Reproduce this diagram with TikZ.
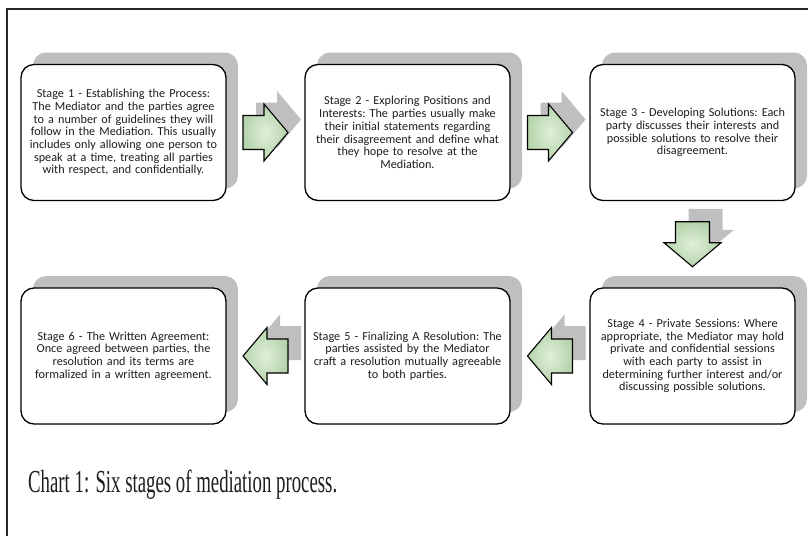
\documentclass[tikz,border=0pt]{standalone}
\usepackage{fontspec}
\setmainfont{Liberation Serif}
\newfontfamily\calib{Carlito}
\usetikzlibrary{calc,shadows}
\definecolor{shadowgray}{RGB}{191,191,191}
\definecolor{arrlight}{RGB}{225,240,219}
\definecolor{arrdark}{RGB}{180,211,170}
\definecolor{txt}{RGB}{30,30,30}
\tikzset{
  stagebox/.style={draw=black, line width=1.3pt, fill=white, rounded corners=13pt,
    minimum width=205pt, minimum height=136pt, inner sep=0pt,
    text width=203pt, align=center, text=txt,
    font=\calib\frenchspacing\fontsize{12.2}{12.7}\selectfont,
    drop shadow={shadow xshift=12pt, shadow yshift=12pt, fill=shadowgray, opacity=1}},
  arrshadow/.style={fill=shadowgray},
  arrbody/.style={draw=black, line width=1.1pt, inner color=arrlight, outer color=arrdark},
  pics/blockarr/.style={code={
    \path[pic actions] (-22.5,-17) -- (-1.5,-17) -- (-1.5,-28.5) -- (22.5,0)
      -- (-1.5,28.5) -- (-1.5,17) -- (-22.5,17) -- cycle;}},
  frameline/.style={draw=black!85, line width=1.4pt}
}
\begin{document}
\begin{tikzpicture}[x=1pt,y=-1pt]
\useasboundingbox (0,0) rectangle (808,536);
\draw[frameline] (7,536) -- (7,9) -- (808,9);

\node[stagebox] (s1) at (123.5,132.5) {Stage 1 - Establishing the Process:\\The Mediator and the parties agree\\to a number of guidelines they will\\follow in the Mediation. This usually\\includes only allowing one person to\\speak at a time, treating all parties\\with respect, and confidentially.};
\node[stagebox] (s2) at (407.5,132.5) {Stage 2 - Exploring Positions and\\Interests: The parties usually make\\their initial statements regarding\\their disagreement and define what\\they hope to resolve at the\\Mediation.};
\node[stagebox] (s3) at (692.5,132.5) {Stage 3 - Developing Solutions: Each\\party discusses their interests and\\possible solutions to resolve their\\disagreement.};
\node[stagebox] (s4) at (692.5,356) {Stage 4 - Private Sessions: Where\\appropriate, the Mediator may hold\\private and confidential sessions\\with each party to assist in\\determining further interest and/or\\discussing possible solutions.};
\node[stagebox] (s5) at (407.5,356) {Stage 5 - Finalizing A Resolution: The\\parties assisted by the Mediator\\craft a resolution mutually agreeable\\to both parties.};
\node[stagebox] (s6) at (123.5,356) {Stage 6 - The Written Agreement:\\Once agreed between parties, the\\resolution and its terms are\\formalized in a written agreement.};

\coordinate (m12) at ($(s1.east)!0.5!(s2.west)$);
\coordinate (m23) at ($(s2.east)!0.5!(s3.west)$);
\coordinate (m34) at ($(s3.south)!0.5!(s4.north)$);
\coordinate (m45) at ($(s4.west)!0.5!(s5.east)$);
\coordinate (m56) at ($(s5.west)!0.5!(s6.east)$);

\foreach \m/\r in {m12/0, m23/0, m34/-90, m45/180, m56/180}{
  \pic[arrshadow, rotate=\r] at ([shift={(13,-13)}]\m) {blockarr};
  \pic[arrbody, rotate=\r] at (\m) {blockarr};
}

\node[anchor=base west, inner sep=0pt, text=txt, font=\fontsize{32}{32}\selectfont] (cap) at (28,492)
  {\resizebox{309pt}{\height}{Chart 1: Six stages of mediation process.}};
\end{tikzpicture}
\end{document}
